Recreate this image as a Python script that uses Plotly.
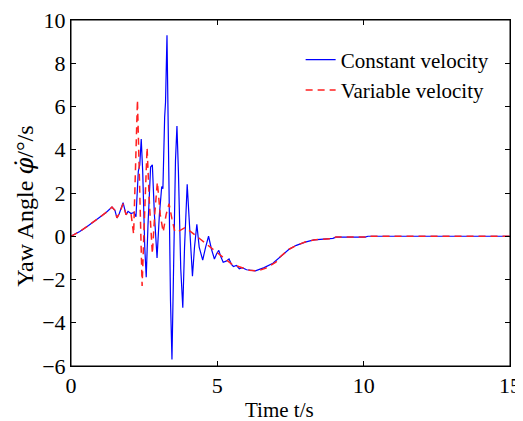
import plotly.graph_objects as go

# Constant velocity series
t_const = [0, 0.3, 0.6, 0.9, 1.2, 1.4, 1.5, 1.57, 1.65, 1.78, 1.88, 1.95, 2.05, 2.15, 2.22,
           2.3, 2.35, 2.4, 2.45, 2.52, 2.57, 2.63, 2.72, 2.78, 2.85, 2.94, 3.02, 3.1, 3.14,
           3.2, 3.23, 3.28, 3.33, 3.4, 3.45, 3.5, 3.57, 3.62, 3.67, 3.75, 3.82, 3.88, 3.97,
           4.05, 4.15, 4.22, 4.3, 4.38, 4.5, 4.6, 4.7, 4.8, 4.9, 4.98, 5.05, 5.12, 5.2, 5.3,
           5.4, 5.48, 5.55, 5.65, 5.75, 5.85, 6.0, 6.3, 6.6, 6.9, 7.15, 7.45, 7.7, 8.0, 8.3,
           8.95, 9.05, 10.05, 10.15, 15]
v_const = [0, 0.22, 0.5, 0.8, 1.1, 1.35, 1.2, 0.85, 1.05, 1.55, 1.0, 1.15, 1.05, 1.1, 0.9,
           3.0, 3.3, 4.5, 3.0, -0.5, -1.9, 0.5, 3.2, 3.3, 1.0, -1.0, 1.0, 2.3, 2.2,
           5.5, 6.2, 9.3, 4.0, -3.0, -5.7, -2.0, 3.5, 5.1, 3.0, -1.5, -3.3, -0.5, 2.4,
           0.5, -1.85, -0.5, 0.55, -0.5, -1.1, -0.5, 0.0, -0.6, -1.05, -0.8, -0.65, -0.95, -1.2, -1.15,
           -1.05, -1.3, -1.4, -1.35, -1.5, -1.45, -1.55, -1.6, -1.45, -1.25, -0.95, -0.6, -0.42, -0.27, -0.17,
           -0.1, -0.04, -0.04, 0, 0]

# Variable velocity series
t_var = [0, 0.3, 0.6, 0.9, 1.2, 1.4, 1.5, 1.57, 1.65, 1.78, 1.88, 1.95, 2.05, 2.14,
         2.27, 2.35, 2.43, 2.5, 2.6, 2.68, 2.78, 2.86, 2.95, 3.05, 3.15, 3.25, 3.35, 3.45,
         3.55, 3.7, 3.9, 4.2, 4.65, 5.1, 5.5, 6.1, 6.4, 6.7, 7.0, 7.15, 7.45, 7.7, 8.0, 8.3,
         8.95, 9.05, 10.05, 10.15, 15]
v_var = [0, 0.22, 0.5, 0.8, 1.1, 1.35, 1.2, 0.85, 1.05, 1.5, 1.0, 1.1, 1.05, 0.1,
         6.3, 2.0, -2.3, 0.5, 4.1, 1.5, -0.8, 1.0, 2.5, 1.0, 0.2, 1.0, 1.5, 0.8,
         0.2, 0.25, 0.4, 0.1, -0.4, -0.88, -1.3, -1.57, -1.6, -1.45, -1.2, -0.95, -0.6, -0.42, -0.27, -0.17,
         -0.1, -0.04, -0.04, 0, 0]

x_ticks = [0, 5, 10, 15]
y_ticks = [-6, -4, -2, 0, 2, 4, 6, 8, 10]

FONT = "Liberation Serif, Times New Roman, serif"

fig = go.Figure()
fig.add_trace(go.Scatter(x=t_const, y=v_const, mode="lines", name="Constant velocity",
                         line=dict(color="#0000ff", width=1.2)))
fig.add_trace(go.Scatter(x=t_var, y=v_var, mode="lines", name="Variable velocity",
                         line=dict(color="#ff2020", width=1.5, dash="7px,5px")))

axis_common = dict(showline=True, linecolor="black", linewidth=1, mirror="ticks",
                   ticks="inside", ticklen=5, tickcolor="black", showgrid=False,
                   zeroline=False, automargin=False, ticklabeloverflow="allow",
                   tickfont=dict(family=FONT, size=22, color="black"))

# page body has an 8px default margin, so the figure is 8px smaller than the window
fig.update_layout(
    width=515, height=413,
    margin=dict(l=63, r=13, t=12, b=55),
    paper_bgcolor="white", plot_bgcolor="white",
    font=dict(family=FONT, size=22, color="black"),
    xaxis=dict(range=[0, 15], tickvals=x_ticks, **axis_common),
    yaxis=dict(range=[-6, 10], tickvals=y_ticks, ticksuffix=" ", **axis_common),
    showlegend=True,
    legend=dict(x=0.965, y=0.841, xanchor="right", yanchor="middle",
                bgcolor="rgba(0,0,0,0)", font=dict(family=FONT, size=21),
                tracegroupgap=0),
    shapes=[dict(type="rect", xref="paper", yref="paper", x0=0, x1=1, y0=0, y1=1,
                 line=dict(color="black", width=1), fillcolor="rgba(0,0,0,0)",
                 layer="above")],
    annotations=[
        dict(text="Time t/s", xref="paper", yref="paper", x=0.474, y=0, yshift=-30,
             xanchor="center", yanchor="top", showarrow=False,
             font=dict(family=FONT, size=21)),
        dict(text="Yaw Angle <span style=\"font-family:'DejaVu Serif';font-style:italic\">φ̇</span>/°/s",
             xref="paper", yref="paper", x=0, xshift=-46,
             y=0.46, xanchor="center", yanchor="middle", textangle=-90, showarrow=False,
             font=dict(family=FONT, size=24)),
    ],
)

fig.write_html("out.html")
